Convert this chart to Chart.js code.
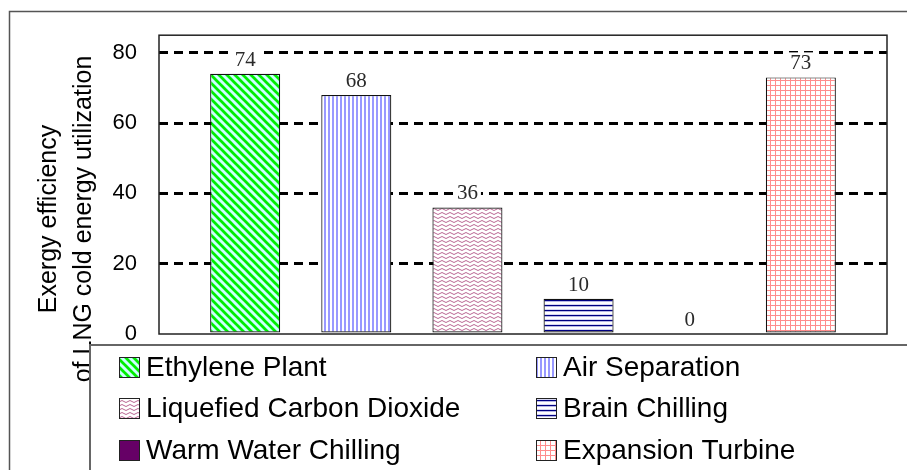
<!DOCTYPE html>
<html>
<head>
<meta charset="utf-8">
<script src="https://cdn.jsdelivr.net/npm/chart.js@4.4.1/dist/chart.umd.min.js"></script>
<style>
  html, body { margin: 0; padding: 0; background: #fff; }
  #wrap { width: 907px; height: 470px; position: relative; }
</style>
</head>
<body>
<div id="wrap"><canvas id="c" width="907" height="470"></canvas></div>
<script>
// ---- data ----
const categories = [''];
const seriesNames = ['Ethylene Plant', 'Air Separation', 'Liquefied Carbon Dioxide', 'Brain Chilling', 'Warm Water Chilling', 'Expansion Turbine'];
const seriesValues = [74, 68, 36, 10, 0, 73];
const yTicks = [0, 20, 40, 60, 80];
const yTitleLines = ['Exergy efficiency', 'of LNG cold energy utilization'];

const SANS = '"Liberation Sans", Arial, sans-serif';
const SERIF = '"Liberation Serif", "Times New Roman", serif';

// ---- fill patterns ----
function makeTile(w, h, draw) {
  const t = document.createElement('canvas');
  t.width = w; t.height = h;
  const g = t.getContext('2d');
  draw(g, w, h);
  return document.getElementById('c').getContext('2d').createPattern(t, 'repeat');
}
const patterns = [
  // diagonal green stripes on light cyan
  makeTile(8, 8, (g, w, h) => {
    g.fillStyle = '#CCFFFF'; g.fillRect(0, 0, w, h);
    g.strokeStyle = '#00EE00'; g.lineWidth = 2.7;
    for (let o = -8; o <= 8; o += 8) { g.beginPath(); g.moveTo(o - 2, -2); g.lineTo(o + 10, 10); g.stroke(); }
  }),
  // vertical light blue stripes
  makeTile(4, 4, (g, w, h) => {
    g.fillStyle = '#ffffff'; g.fillRect(0, 0, w, h);
    g.fillStyle = '#9999FF'; g.fillRect(0, 0, 2, h);
  }),
  // waves
  makeTile(8, 4, (g, w, h) => {
    g.fillStyle = '#ffffff'; g.fillRect(0, 0, w, h);
    g.strokeStyle = 'rgba(160,50,110,0.75)'; g.lineWidth = 1;
    g.beginPath();
    g.moveTo(0, 1.5); g.quadraticCurveTo(2, -0.5, 4, 1.5); g.quadraticCurveTo(6, 3.5, 8, 1.5);
    g.stroke();
  }),
  // horizontal navy lines
  makeTile(4, 5, (g, w, h) => {
    g.fillStyle = '#ffffff'; g.fillRect(0, 0, w, h);
    g.fillStyle = '#000080'; g.fillRect(0, 0, w, 1);
    g.fillStyle = '#b8b8e6'; g.fillRect(0, 1, w, 1);
    g.fillStyle = '#d8d8f4'; g.fillRect(0, 4, w, 1);
  }),
  '#660066',
  // pink grid
  makeTile(5, 5, (g, w, h) => {
    g.fillStyle = '#ffffff'; g.fillRect(0, 0, w, h);
    g.fillStyle = '#FF8C8C'; g.fillRect(0, 0, w, 1); g.fillRect(0, 0, 1, h);
  })
];

const datasets = seriesNames.map((name, i) => ({
  label: name,
  data: [seriesValues[i]],
  backgroundColor: patterns[i],
  borderColor: '#111',
  borderWidth: 1.2,
  borderSkipped: false,
  categoryPercentage: 0.916,
  barPercentage: 0.63
}));

const decor = {
  id: 'decor',
  beforeDraw(chart) {
    const ctx = chart.ctx;
    ctx.save(); ctx.fillStyle = '#fff'; ctx.fillRect(0, 0, chart.width, chart.height); ctx.restore();
  },
  afterDatasetsDraw(chart) {
    const ctx = chart.ctx;
    ctx.save();
    ctx.font = '21px ' + SERIF;
    ctx.textAlign = 'center';
    ctx.textBaseline = 'alphabetic';
    chart.data.datasets.forEach((ds, i) => {
      const el = chart.getDatasetMeta(i).data[0];
      if (!el) return;
      const txt = String(ds.data[0]);
      const w = ctx.measureText(txt).width;
      const by = el.y - 8;
      ctx.fillStyle = '#fff';
      ctx.fillRect(el.x - w / 2 - 3, by - 17, w + 6, 19);
      ctx.fillStyle = '#2a2a2a';
      ctx.fillText(txt, el.x, by);
    });
    ctx.restore();
  },
  afterDraw(chart) {
    const ctx = chart.ctx;
    const ca = chart.chartArea;
    ctx.save();
    // plot frame
    ctx.strokeStyle = '#222'; ctx.lineWidth = 1.5;
    ctx.strokeRect(ca.left, ca.top, ca.right - ca.left, ca.bottom - ca.top);
    // outer frame
    ctx.strokeStyle = '#555'; ctx.lineWidth = 1.5;
    ctx.beginPath(); ctx.moveTo(9.5, chart.height); ctx.lineTo(9.5, 11.5); ctx.lineTo(chart.width, 11.5); ctx.stroke();
    // y title
    ctx.fillStyle = '#000';
    ctx.font = '25px ' + SANS;
    ctx.textAlign = 'center'; ctx.textBaseline = 'alphabetic';
    const baseX = [56, 91];
    yTitleLines.forEach((t, k) => {
      ctx.save(); ctx.translate(baseX[k], 219); ctx.rotate(-Math.PI / 2); ctx.fillText(t, 0, 0); ctx.restore();
    });
    // legend box
    const lx = 90, ly = 345;
    ctx.fillStyle = '#fff'; ctx.fillRect(lx, ly, chart.width - lx, chart.height - ly);
    ctx.strokeStyle = '#666'; ctx.lineWidth = 2;
    ctx.beginPath(); ctx.moveTo(lx, chart.height); ctx.lineTo(lx, ly); ctx.lineTo(chart.width, ly); ctx.stroke();
    // legend items
    const colX = [119, 536], rowY = [357, 398, 440];
    ctx.font = '28px ' + SANS;
    ctx.textAlign = 'left';
    chart.data.datasets.forEach((ds, i) => {
      const x = colX[i % 2], y = rowY[Math.floor(i / 2)];
      ctx.fillStyle = ds.backgroundColor; ctx.fillRect(x, y, 20, 20);
      ctx.strokeStyle = '#222'; ctx.lineWidth = 1; ctx.strokeRect(x + 0.5, y + 0.5, 20, 20);
      ctx.fillStyle = '#000';
      ctx.fillText(ds.label, x + 27, y + 18.5);
    });
    ctx.restore();
  }
};

new Chart(document.getElementById('c'), {
  type: 'bar',
  data: { labels: categories, datasets },
  options: {
    responsive: false,
    devicePixelRatio: 1,
    animation: false,
    layout: { padding: { left: 0, top: 33, right: 20, bottom: 136 } },
    plugins: { legend: { display: false }, tooltip: { enabled: false } },
    scales: {
      x: { display: false },
      y: {
        min: 0, max: 85,
        afterBuildTicks: s => { s.ticks = yTicks.map(v => ({ value: v })); },
        afterFit: s => { s.width = 159; },
        ticks: { padding: 22, color: '#000', font: { family: SANS, size: 22 } },
        grid: {
          drawTicks: false,
          lineWidth: 3,
          color: c => (c.tick && c.tick.value === 0) ? 'rgba(0,0,0,0)' : '#000',
          borderDash: [9, 6]
        },
        border: { display: false, dash: [9, 6] }
      }
    }
  },
  plugins: [decor]
});
</script>
</body>
</html>
